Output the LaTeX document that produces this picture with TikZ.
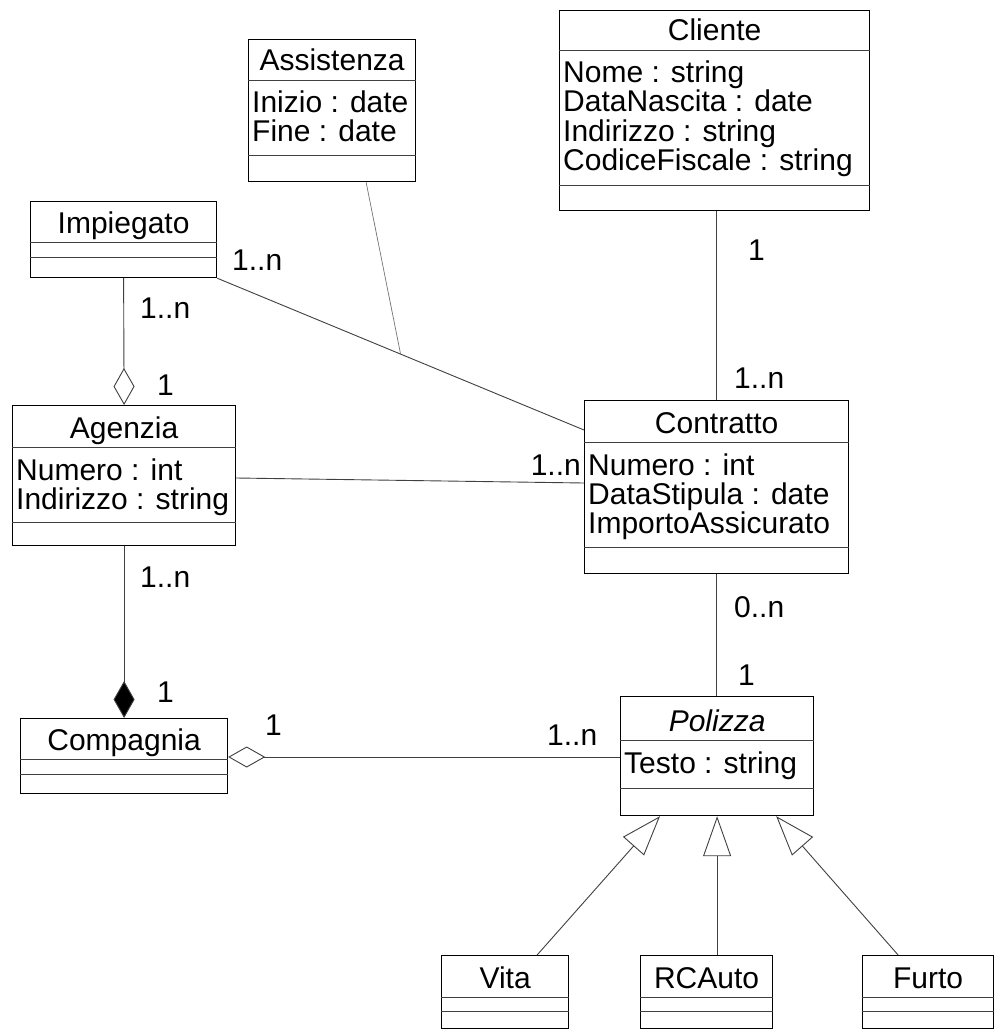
\documentclass[tikz,border=0pt]{standalone}
\usepackage{fontspec}
\setmainfont{Liberation Sans}
\usetikzlibrary{arrows.meta,calc}

\tikzset{
  classbox/.style={draw=black, line width=1.2pt, fill=white, inner sep=0pt},
  divider/.style={draw=black!75, line width=0.9pt},
  titletext/.style={font=\fontsize{30}{30}\selectfont, inner sep=0pt},
  attrtext/.style={font=\fontsize{30}{30}\selectfont, inner sep=0pt},
  mult/.style={font=\fontsize{30}{30}\selectfont, inner sep=0pt, anchor=base west},
  assoc/.style={draw=black!75, line width=0.9pt},
  assocfaint/.style={draw=black!55, line width=0.7pt},
  aggr/.style={assoc, {Diamond[open, length=37pt, width=21pt, line width=0.9pt]}-},
  compo/.style={assoc, {Diamond[fill=black, length=37pt, width=21pt]}-},
  gen/.style={assoc, -{Triangle[open, length=40pt, width=28pt, line width=0.9pt]}},
}

% \umlclass{name}{x}{y}{width}{height}{first divider}{second divider}{title}{attributes}
\newcommand{\umlclass}[9]{%
  \node[classbox, minimum width=#4pt, minimum height=#5pt, anchor=north west] (#1) at (#2,#3) {};
  \draw[divider] ([yshift=-#6pt]#1.north west) -- ([yshift=-#6pt]#1.north east);
  \draw[divider] ([yshift=-#7pt]#1.north west) -- ([yshift=-#7pt]#1.north east);
  \node[titletext, anchor=base] (#1-title) at ([yshift={-(#6-9)*1pt}]#1.north) {#8};
  \foreach \attr [count=\i] in {#9} {
    \node[attrtext, anchor=base west] (#1-attr-\i) at ([yshift={-(#6+33+(\i-1)*29)*1pt}, xshift=4pt]#1.north west) {\attr};
  }%
}

\begin{document}
\begin{tikzpicture}[x=1pt, y=-1pt]
  \useasboundingbox[fill=white] (0,0) rectangle (997,1030);

  % classes
  \umlclass{Impiegato}{30}{201}{186}{76}{41}{56}{Impiegato}{}
  \umlclass{Assistenza}{248}{39}{167}{142}{41}{116}{Assistenza}{Inizio : date, Fine : date}
  \umlclass{Cliente}{559}{10}{310}{200}{40}{175}{Cliente}{Nome : string, DataNascita : date, Indirizzo : string, CodiceFiscale : string}
  \umlclass{Agenzia}{12}{405}{223}{140}{42}{117}{Agenzia}{Numero : int, Indirizzo : string}
  \umlclass{Contratto}{584}{400}{264}{173}{42}{147}{Contratto}{Numero : int, DataStipula : date, ImportoAssicurato}
  \umlclass{Compagnia}{20}{718}{207}{75}{41}{56}{Compagnia}{}
  \umlclass{Polizza}{620}{696}{193}{119}{44}{92}{\itshape Polizza}{Testo : string}
  \umlclass{Vita}{441}{955}{127}{73}{42}{56}{Vita}{}
  \umlclass{RCAuto}{640}{955}{132}{73}{42}{56}{RCAuto}{}
  \umlclass{Furto}{862}{955}{131}{73}{42}{56}{Furto}{}

  % associations
  \draw[aggr] (Agenzia.north) -- (Impiegato.south);
  \draw[compo] (Compagnia.north) -- (Agenzia.south);
  \coordinate (compR) at ([yshift=-39pt]Compagnia.north east);
  \draw[aggr] (compR) -- (compR -| Polizza.west);
  \draw[assoc] (Cliente.south -| Contratto.north) -- (Contratto.north);
  \draw[assoc] (Contratto.south) -- (Contratto.south |- Polizza.north);
  \coordinate (contrL) at ([yshift=-30pt]Contratto.north west);
  \draw[assoc] (Impiegato.south east) -- (contrL);
  \draw[assoc] ([yshift=-73pt]Agenzia.north east) -- ([yshift=-83pt]Contratto.north west);

  % association class link
  \coordinate (assocPt) at ($(Impiegato.south east)!0.5!(contrL)$);
  \draw[assocfaint] ([xshift=34pt]Assistenza.south) -- (assocPt);

  % generalizations
  \draw[gen] ([xshift=32pt]Vita.north) -- ([xshift=40pt]Polizza.south west);
  \draw[gen] (Polizza.south |- RCAuto.north) -- (Polizza.south);
  \draw[gen] ([xshift=-30pt]Furto.north) -- ([xshift=-38pt]Polizza.south east);

  % multiplicities
  \node[mult] (m1) at (232,270) {1..n};
  \node[mult] (m2) at (140,318) {1..n};
  \node[mult] (m3) at (157,395) {1};
  \node[mult] (m4) at (140,587) {1..n};
  \node[mult] (m5) at (157,702) {1};
  \node[mult] (m6) at (265,735) {1};
  \node[mult] (m7) at (547,745) {1..n};
  \node[mult, anchor=base east] (m8) at (581,475) {1..n};
  \node[mult] (m9) at (748,260) {1};
  \node[mult] (m10) at (734,388) {1..n};
  \node[mult] (m11) at (734,617) {0..n};
  \node[mult] (m12) at (738,685) {1};
\end{tikzpicture}
\end{document}
